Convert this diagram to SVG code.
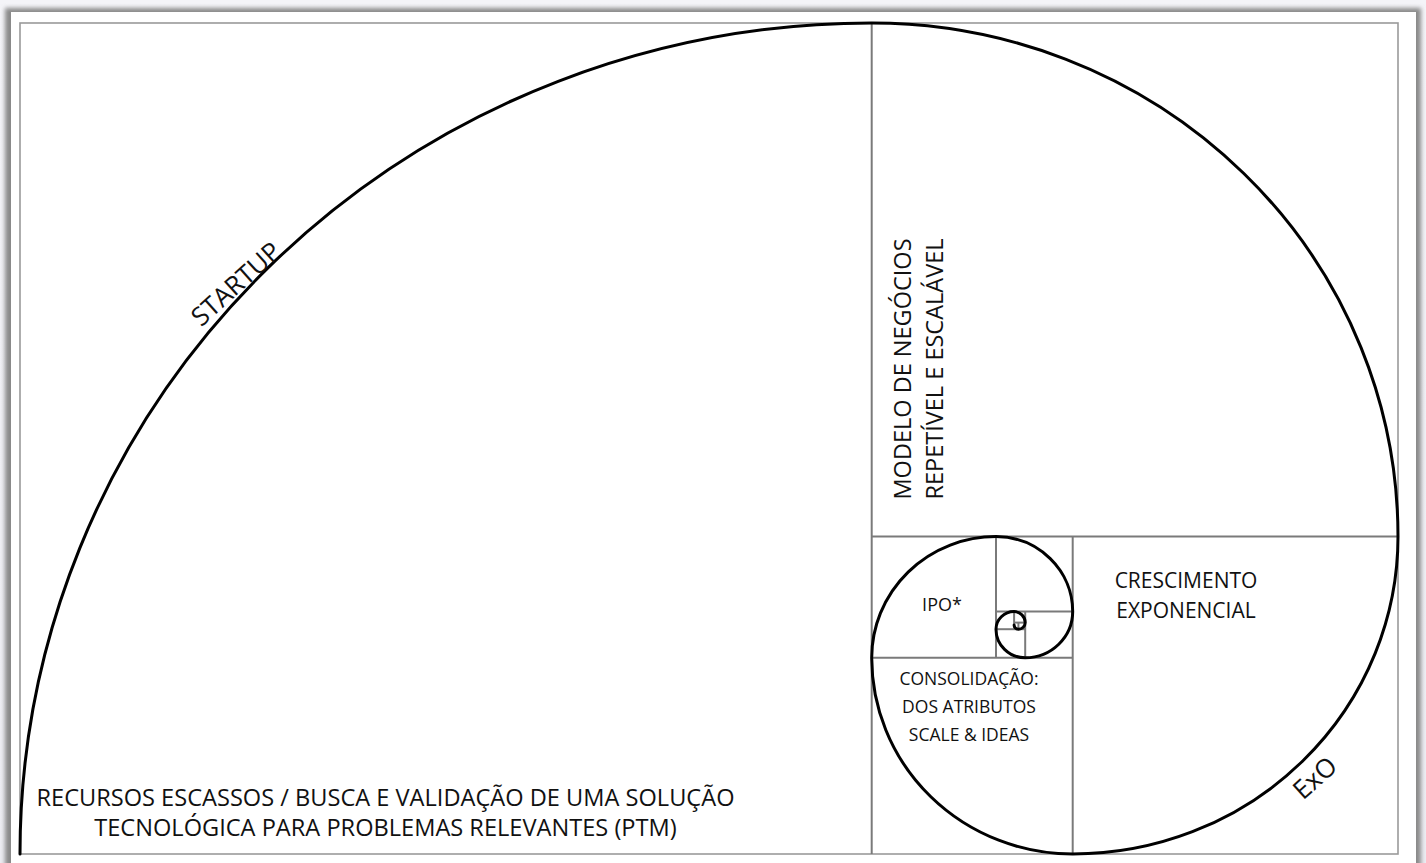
<svg xmlns="http://www.w3.org/2000/svg" width="1426" height="863" viewBox="0 0 1426 863">
  <defs>
    <linearGradient id="bg" x1="0" y1="0" x2="0" y2="1">
      <stop offset="0" stop-color="#f4f4f8"/>
      <stop offset="1" stop-color="#ececf2"/>
    </linearGradient>
    <filter id="blur" x="-5%" y="-5%" width="110%" height="110%">
      <feGaussianBlur stdDeviation="2"/>
    </filter>
    <style>
      .frame { fill: none; stroke: #9a9a9a; stroke-width: 1.6; }
      .div { fill: none; stroke: #7a7a7a; stroke-width: 2; }
      .spiral { fill: none; stroke: #000; stroke-width: 3; stroke-linecap: round; }
      .lbl { font-family: "Open Sans", "Noto Sans", "Liberation Sans", sans-serif; fill: #111; }
    </style>
  </defs>

  <rect x="0" y="0" width="1426" height="863" fill="url(#bg)"/>
  <rect x="5" y="8" width="1416" height="870" fill="#8a8a8a" filter="url(#blur)"/>
  <rect x="11" y="12" width="1405" height="860" fill="#ffffff"/>
  <rect class="frame" x="20" y="23" width="1378" height="831"/>

  <g id="connectors">
    <g id="dividers">
      <line class="div" x1="871.7" y1="23" x2="871.7" y2="854"/>
      <line class="div" x1="871.7" y1="536.6" x2="1398" y2="536.6"/>
      <line class="div" x1="1072.7" y1="536.6" x2="1072.7" y2="854"/>
      <line class="div" x1="871.7" y1="657.8" x2="1072.7" y2="657.8"/>
      <line class="div" x1="996" y1="536.6" x2="996" y2="657.8"/>
      <line class="div" x1="996" y1="611.6" x2="1072.7" y2="611.6"/>
      <line class="div" x1="1025.2" y1="611.6" x2="1025.2" y2="657.8"/>
      <line class="div" x1="996" y1="629.2" x2="1025.2" y2="629.2"/>
      <line class="div" x1="1014.1" y1="611.6" x2="1014.1" y2="629.2"/>
      <line class="div" x1="1014.1" y1="622.6" x2="1025.2" y2="622.6"/>
      <line class="div" x1="1018.4" y1="622.6" x2="1018.4" y2="629.2"/>
    </g>
    <path id="spiral" class="spiral" d="M20,854 A851.7,831 0 0 1 871.7,23 A526.4,513.6 0 0 1 1398,536.6 A325.3,317.4 0 0 1 1072.7,854 A201,196.2 0 0 1 871.7,657.8 A124.3,121.2 0 0 1 996,536.6 A76.8,75 0 0 1 1072.7,611.6 A47.5,46.3 0 0 1 1025.2,657.8 A29.3,28.6 0 0 1 996,629.2 A18.1,17.7 0 0 1 1014.1,611.6 A11.1,11 0 0 1 1025.2,622.6 A6.8,6.6 0 0 1 1018.4,629.2 A4.3,4.2 0 0 1 1014.1,625"/>
  </g>

  <g id="startup">
    <text class="lbl" font-size="26" text-anchor="middle" transform="translate(236,284) rotate(-42)" y="9">STARTUP</text>
  </g>
  <g id="recursos">
    <text class="lbl" font-size="23.6" text-anchor="middle" x="385.5" y="806">RECURSOS ESCASSOS / BUSCA E VALIDAÇÃO DE UMA SOLUÇÃO</text>
    <text class="lbl" font-size="23.6" text-anchor="middle" x="385.5" y="836">TECNOLÓGICA PARA PROBLEMAS RELEVANTES (PTM)</text>
  </g>
  <g id="modelo">
    <g transform="translate(911,369) rotate(-90)">
      <text class="lbl" font-size="23.5" text-anchor="middle" x="0" y="0">MODELO DE NEGÓCIOS</text>
      <text class="lbl" font-size="23.5" text-anchor="middle" x="0" y="32">REPETÍVEL E ESCALÁVEL</text>
    </g>
  </g>
  <g id="crescimento">
    <text class="lbl" font-size="21" text-anchor="middle" x="1186" y="588">CRESCIMENTO</text>
    <text class="lbl" font-size="21" text-anchor="middle" x="1186" y="618">EXPONENCIAL</text>
  </g>
  <g id="ipo">
    <text class="lbl" font-size="18" text-anchor="middle" x="942" y="611">IPO*</text>
  </g>
  <g id="consolidacao">
    <text class="lbl" font-size="17.5" text-anchor="middle" x="969" y="685">CONSOLIDAÇÃO:</text>
    <text class="lbl" font-size="17.5" text-anchor="middle" x="969" y="713">DOS ATRIBUTOS</text>
    <text class="lbl" font-size="17.5" text-anchor="middle" x="969" y="741">SCALE &amp; IDEAS</text>
  </g>
  <g id="exo">
    <text class="lbl" font-size="26" text-anchor="middle" transform="translate(1315,778) rotate(-42)" y="9">ExO</text>
  </g>
</svg>
